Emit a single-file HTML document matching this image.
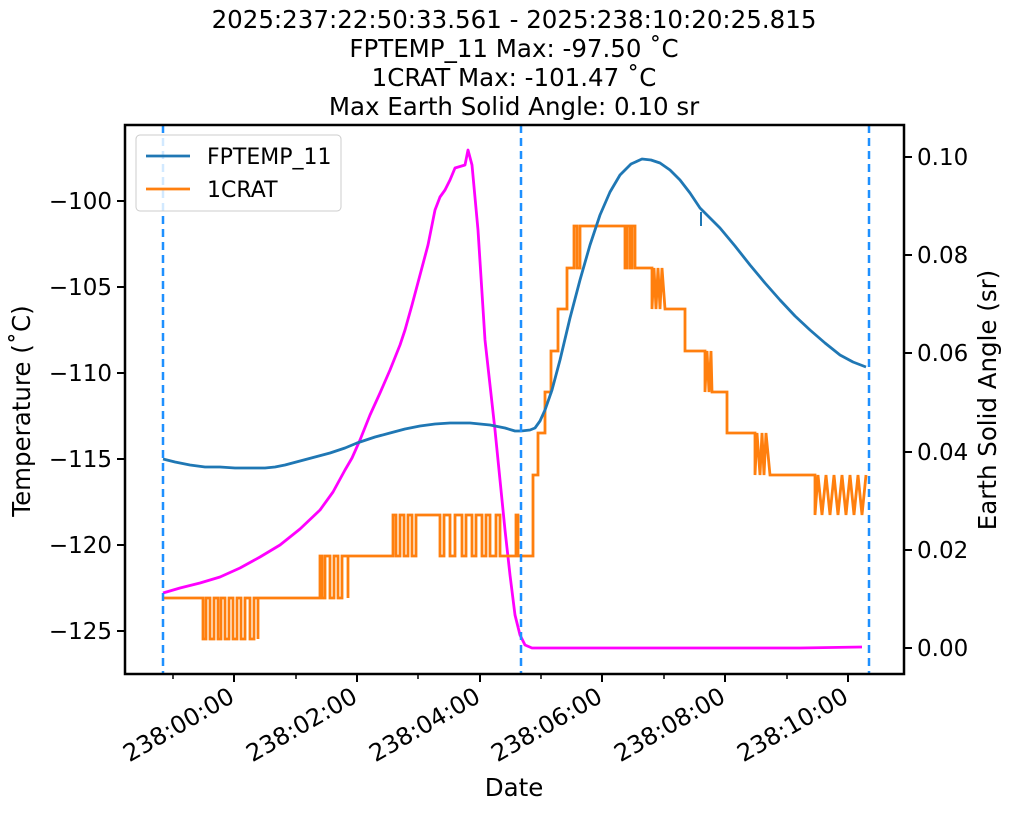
<!DOCTYPE html>
<html><head><style>body{margin:0;background:#fff}svg text{font-family:"DejaVu Sans","Liberation Sans",sans-serif;fill:#000}</style></head>
<body>
<svg width="1011" height="811" viewBox="0 0 1011 811" xmlns="http://www.w3.org/2000/svg">
<g font-size="24.5" text-anchor="middle">
<text x="514" y="28">2025:237:22:50:33.561 - 2025:238:10:20:25.815</text>
<text x="514" y="57">FPTEMP_11 Max: -97.50 ˚C</text>
<text x="514" y="86">1CRAT Max: -101.47 ˚C</text>
<text x="514" y="115">Max Earth Solid Angle: 0.10 sr</text>
</g>
<polyline fill="none" stroke="#ff00ff" stroke-width="2.8" stroke-linejoin="round" points="163,593 180,588 200,583 220,577 240,568 260,557 280,545 300,529 320,510 333,492 345,470 352,458 360,440 370,415 380,393 390,370 400,345 405,330 412,305 420,275 428,245 435,210 440,197 445,190 450,180 455,168 465,165 468,150 472,165 478,230 485,340 490,385 495,430 500,480 505,530 510,575 515,615 520,635 525,645 532,648 540,648 700,648 800,648 862,647"/>
<polyline fill="none" stroke="#ff7f0e" stroke-width="2.8" points="163,598 203,598 203,639 206,639 206,598 210,598 210,639 214,639 214,598 218,598 218,639 221,639 221,598 225,598 225,639 229,639 229,598 233,598 233,639 237,639 237,598 241,598 241,639 245,639 245,598 250,598 250,639 254,639 254,598 258,598 258,639 258,598 320,598 320,556 322,556 322,598 325,598 325,556 330,556 330,598 334,598 334,556 338,556 338,598 342,598 342,556 348,556 348,598 348,556 393,556 393,515 396,515 396,556 400,556 400,515 404,515 404,556 408,556 408,515 412,515 412,556 416,556 416,515 440,515 440,556 444,556 444,515 450,515 450,556 455,556 455,515 462,515 462,556 466,556 466,515 472,515 472,556 476,556 476,515 482,515 482,556 486,556 486,515 490,515 490,556 496,556 496,515 500,515 500,556 516,556 516,515 518,515 518,556 533,556 533,515 533,475 538,475 538,433 545,433 545,392 551,392 551,351 558,351 558,309 567,309 567,268 574,268 574,226 577,226 577,268 580,268 580,226 625,226 625,268 627,268 627,226 630,226 630,268 632,268 632,226 635,226 635,268 638,268 652,268 652,309 654,268 656,309 658,268 660,309 662,268 665,309 685,309 685,351 705,351 705,392 707,351 709,392 711,351 712,392 727,392 727,433 755,433 755,475 757,433 760,475 762,433 764,475 766,433 770,475 815,475 815,515 818,475 822,515 826,475 830,515 834,475 838,515 842,475 846,515 850,475 854,515 858,475 862,515 866,475"/>
<polyline fill="none" stroke="#1f77b4" stroke-width="2.8" stroke-linejoin="round" points="163,459 175,462 190,465 205,467 220,467 235,468 250,468 265,468 275,467 285,465 300,461 315,457 330,453 345,448 357,443 375,437 390,433 405,429 420,426 435,424 450,423 470,423 490,425 505,428 515,431 521,431 530,430 535,428 540,421 545,410 552,390 560,360 570,318 580,280 590,245 600,215 610,192 620,175 631,164 642,159 651,160 660,163 670,170 680,180 690,193 700,208 710,218 720,228 735,246 750,265 765,283 780,300 795,316 810,330 825,343 840,355 853,362 866,367"/>
<line x1="701" y1="212" x2="701" y2="226" stroke="#1f77b4" stroke-width="2"/>
<g stroke="#1e90ff" stroke-width="2.5" stroke-dasharray="8,5">
<line x1="163" y1="125" x2="163" y2="674"/><line x1="521" y1="125" x2="521" y2="674"/><line x1="869" y1="125" x2="869" y2="674"/>
</g>
<rect x="125" y="125" width="779" height="549" fill="none" stroke="#000" stroke-width="2.5"/>
<g stroke="#000" stroke-width="2">
<line x1="125" y1="201" x2="117" y2="201"/><line x1="125" y1="287" x2="117" y2="287"/><line x1="125" y1="373" x2="117" y2="373"/><line x1="125" y1="459" x2="117" y2="459"/><line x1="125" y1="545" x2="117" y2="545"/><line x1="125" y1="631" x2="117" y2="631"/>
<line x1="904" y1="157" x2="912" y2="157"/><line x1="904" y1="255" x2="912" y2="255"/><line x1="904" y1="353" x2="912" y2="353"/><line x1="904" y1="452" x2="912" y2="452"/><line x1="904" y1="550" x2="912" y2="550"/><line x1="904" y1="648" x2="912" y2="648"/>
<line x1="234" y1="674" x2="234" y2="682"/><line x1="357" y1="674" x2="357" y2="682"/><line x1="480" y1="674" x2="480" y2="682"/><line x1="602" y1="674" x2="602" y2="682"/><line x1="725" y1="674" x2="725" y2="682"/><line x1="848" y1="674" x2="848" y2="682"/>
</g>
<g stroke="#000" stroke-width="1.5">
<line x1="173" y1="674" x2="173" y2="679"/><line x1="296" y1="674" x2="296" y2="679"/><line x1="418" y1="674" x2="418" y2="679"/><line x1="541" y1="674" x2="541" y2="679"/><line x1="664" y1="674" x2="664" y2="679"/><line x1="787" y1="674" x2="787" y2="679"/>
</g>
<g font-size="23" text-anchor="end">
<text x="112" y="209">−100</text><text x="112" y="295">−105</text><text x="112" y="381">−110</text><text x="112" y="467">−115</text><text x="112" y="553">−120</text><text x="112" y="639">−125</text>
</g>
<g font-size="23">
<text x="917" y="165">0.10</text><text x="917" y="263">0.08</text><text x="917" y="361">0.06</text><text x="917" y="460">0.04</text><text x="917" y="558">0.02</text><text x="917" y="656">0.00</text>
</g>
<g font-size="24" text-anchor="end">
<text transform="translate(236,701) rotate(-30)">238:00:00</text>
<text transform="translate(359,701) rotate(-30)">238:02:00</text>
<text transform="translate(482,701) rotate(-30)">238:04:00</text>
<text transform="translate(604,701) rotate(-30)">238:06:00</text>
<text transform="translate(727,701) rotate(-30)">238:08:00</text>
<text transform="translate(850,701) rotate(-30)">238:10:00</text>
</g>
<text x="514" y="796" font-size="24.5" text-anchor="middle">Date</text>
<text transform="translate(30,411) rotate(-90)" font-size="24.5" text-anchor="middle">Temperature (˚C)</text>
<text transform="translate(996,400) rotate(-90)" font-size="24.5" text-anchor="middle">Earth Solid Angle (sr)</text>
<rect x="136" y="135" width="205" height="76" rx="4" fill="#fff" fill-opacity="0.8" stroke="#ccc"/>
<line x1="146" y1="156" x2="190" y2="156" stroke="#1f77b4" stroke-width="2.8"/>
<line x1="146" y1="189" x2="190" y2="189" stroke="#ff7f0e" stroke-width="2.8"/>
<text x="207" y="164" font-size="22">FPTEMP_11</text>
<text x="207" y="197" font-size="22">1CRAT</text>
</svg>
</body></html>
